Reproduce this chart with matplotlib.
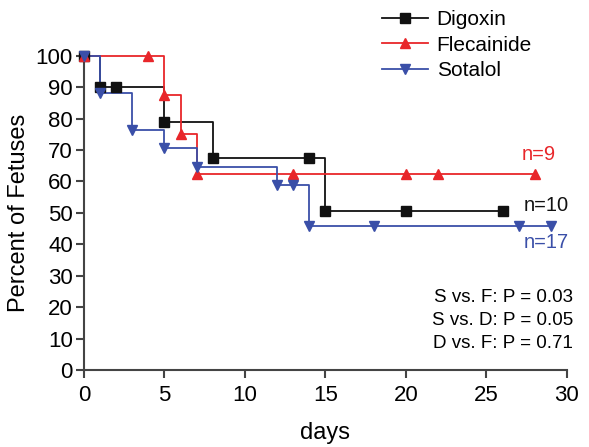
import matplotlib
matplotlib.use('Agg')
import matplotlib.pyplot as plt

plt.rcParams['font.family'] = ['Liberation Sans', 'DejaVu Sans']

# survival steps (day, percent)
digoxin_days = [0, 1, 2, 5, 8, 14, 15, 20, 26]
digoxin_pct = [100, 90, 90, 78.75, 67.5, 67.5, 50.6, 50.6, 50.6]

flec_days = [0, 4, 5, 6, 7, 13, 20, 22, 28]
flec_pct = [100, 100, 87.5, 75, 62.5, 62.5, 62.5, 62.5, 62.5]

sotalol_days = [0, 1, 3, 5, 7, 12, 13, 14, 18, 27, 29]
sotalol_pct = [100, 88.2, 76.5, 70.6, 64.7, 58.8, 58.8, 45.9, 45.9, 45.9, 45.9]

series = [
    ('Digoxin', digoxin_days, digoxin_pct, '#111111', 's'),
    ('Flecainide', flec_days, flec_pct, '#e8262a', '^'),
    ('Sotalol', sotalol_days, sotalol_pct, '#3a4fa8', 'v'),
]

n_labels = [('n=9', 27.2, 68.6, '#e8262a'),
            ('n=10', 27.3, 52.2, '#111111'),
            ('n=17', 27.3, 40.7, '#3a4fa8')]

p_values = ['S vs. F: P = 0.03', 'S vs. D: P = 0.05', 'D vs. F: P = 0.71']

fig = plt.figure(figsize=(5.89, 4.47), dpi=100)
ax = fig.add_axes([0.1426, 0.1723, 0.8200, 0.7031])

handles = []
for name, d, p, c, m in series:
    ax.plot(d, p, drawstyle='steps-post', color=c, lw=1.3, clip_on=False, zorder=3)
    ax.plot(d, p, ls='none', marker=m, color=c, ms=7, clip_on=False, zorder=4)
    h, = ax.plot([], [], color=c, marker=m, ms=7, lw=1.3, label=name)
    handles.append(h)

for txt, x, y, c in n_labels:
    ax.text(x, y, txt, color=c, fontsize=14.5, va='center', ha='left')

for i, s in enumerate(p_values):
    fig.text(573 / 589, 1 - (298 + 22.5 * i) / 447, s, fontsize=13.5,
             ha='right', va='center')

ax.set_xlim(0, 30)
ax.set_ylim(0, 100)
ax.set_xticks(range(0, 31, 5))
ax.set_yticks(range(0, 101, 10))
ax.tick_params(labelsize=16, width=1.5, length=6, color='#444444')
ax.tick_params(axis='x', pad=5)
ax.tick_params(axis='y', pad=2)
for s in ['top', 'right']:
    ax.spines[s].set_visible(False)
for s in ['left', 'bottom']:
    ax.spines[s].set_linewidth(1.5)
    ax.spines[s].set_color('#444444')

ax.set_xlabel('days', fontsize=17, labelpad=11)
ax.set_ylabel('Percent of Fetuses', fontsize=17, labelpad=4)

fig.legend(handles=handles, loc='upper left', bbox_to_anchor=(372 / 589, 1.0),
           frameon=False, fontsize=15, handlelength=2.2, handletextpad=0.4,
           labelspacing=0.3, borderaxespad=0.1)

fig.savefig('out.png', dpi=100)
